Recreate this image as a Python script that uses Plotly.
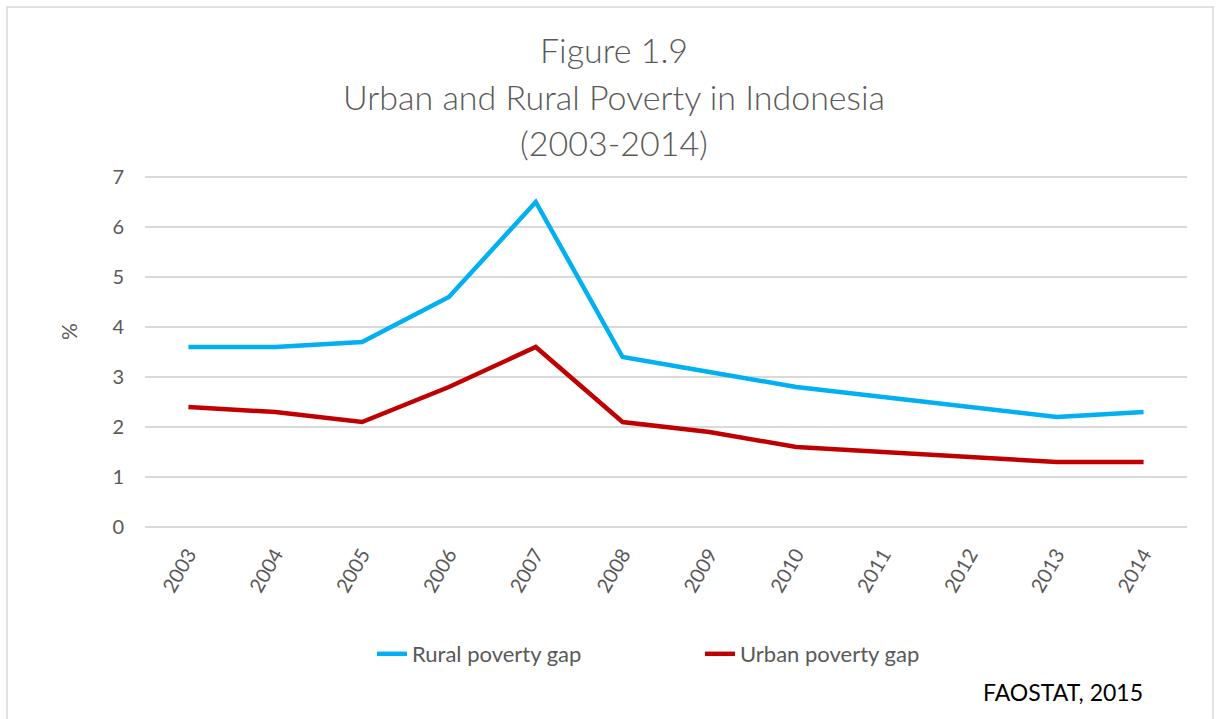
import plotly.graph_objects as go

# Poverty gap series, Indonesia 2003-2014 (%)
years = ["2003", "2004", "2005", "2006", "2007", "2008",
         "2009", "2010", "2011", "2012", "2013", "2014"]
rural_gap = [3.6, 3.6, 3.7, 4.6, 6.5, 3.4, 3.1, 2.8, 2.6, 2.4, 2.2, 2.3]
urban_gap = [2.4, 2.3, 2.1, 2.8, 3.6, 2.1, 1.9, 1.6, 1.5, 1.4, 1.3, 1.3]
y_ticks = [0, 1, 2, 3, 4, 5, 6, 7]

FONT = "Lato"
GREY = "#595959"

fig = go.Figure()
fig.add_trace(go.Scatter(
    x=years, y=rural_gap, mode="lines", name="Rural poverty gap",
    line=dict(color="#00B0F0", width=4.5),
))
fig.add_trace(go.Scatter(
    x=years, y=urban_gap, mode="lines", name="Urban poverty gap",
    line=dict(color="#C00000", width=4.5),
))

W, H = 1220, 719
L, R, T, B = 145, 33, 175, 190
PW, PH = W - L - R, H - T - B


def px_x(x):
    return (x - L) / PW


def px_y(y):
    return (H - B - y) / PH


fig.update_layout(
    width=W, height=H,
    margin=dict(l=L, r=R, t=T, b=B),
    paper_bgcolor="white", plot_bgcolor="white",
    font=dict(family=FONT, color=GREY, size=20),
    showlegend=True,
    legend=dict(
        orientation="h", x=px_x(372), y=px_y(654), xanchor="left", yanchor="middle",
        font=dict(family=FONT, size=22, color=GREY),
        entrywidth=283, entrywidthmode="pixels",
        bgcolor="rgba(0,0,0,0)",
    ),
    xaxis=dict(
        type="category", range=[-0.5, 11.5],
        tickangle=-60, showgrid=False, ticks="", showline=False,
        ticklabelstandoff=9,
        tickfont=dict(family=FONT, size=20, color=GREY),
        zeroline=False,
    ),
    yaxis=dict(
        # small padding keeps the 0 and 7 grid lines inside the plot area
        range=[-0.04, 7.04], tickvals=y_ticks, showgrid=True,
        gridcolor="#d9d9d9", gridwidth=1.5, zeroline=False,
        ticks="", ticklabelstandoff=20,
        tickfont=dict(family=FONT, size=20, color=GREY),
    ),
)

# Y-axis unit label
fig.add_annotation(
    text="%", xref="paper", yref="paper", x=px_x(68), y=px_y(332),
    xanchor="center", yanchor="middle", textangle=-90, showarrow=False,
    font=dict(family=FONT, size=21, color=GREY),
)

# Chart title, three centred lines
title_lines = ["Figure 1.9", "Urban and Rural Poverty in Indonesia", "(2003-2014)"]
title_y = [50, 97, 143]
for txt, yy in zip(title_lines, title_y):
    fig.add_annotation(
        text=txt, xref="paper", yref="paper",
        x=px_x(614), y=px_y(yy),
        xanchor="center", yanchor="middle", showarrow=False,
        font=dict(family=FONT, size=34, color=GREY, weight=300),
    )

# Source note
fig.add_annotation(
    text="FAOSTAT, 2015", xref="paper", yref="paper",
    x=px_x(1145), y=px_y(692),
    xanchor="right", yanchor="middle", showarrow=False,
    font=dict(family=FONT, size=23, color="#000000"),
)

# Light frame around the chart area
fig.add_shape(
    type="rect", xref="paper", yref="paper",
    x0=px_x(7), x1=px_x(1213), y0=px_y(730), y1=px_y(7),
    line=dict(color="#d9d9d9", width=1.5), fillcolor="rgba(0,0,0,0)",
    layer="below",
)

fig.write_html("out.html")
